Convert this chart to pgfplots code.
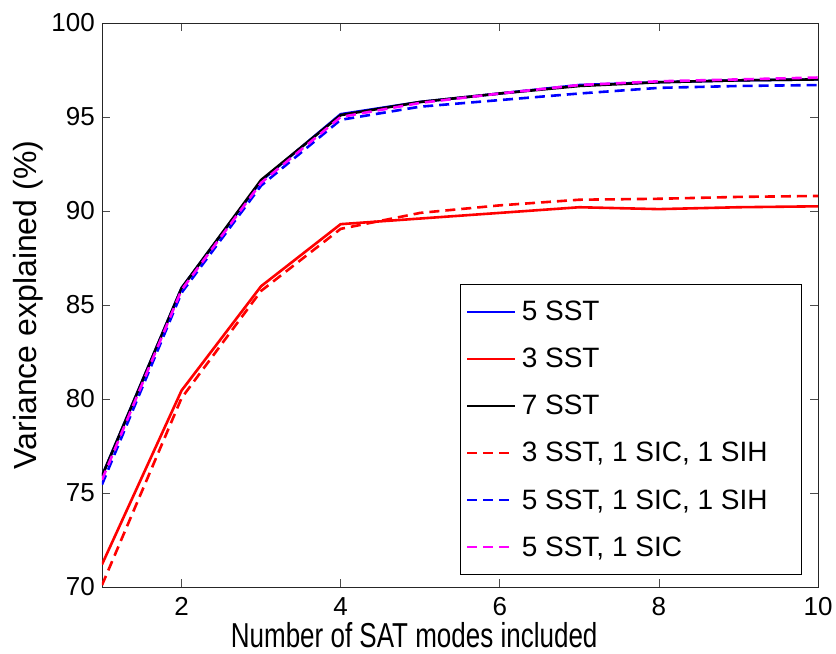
\documentclass[border=0pt]{standalone}
\usepackage{fontspec}
\setmainfont{Liberation Sans}
\usepackage{graphicx}
\usepackage{pgfplots}
\pgfplotsset{compat=1.18}
\definecolor{mag}{rgb}{1,0,1}
\begin{document}
\begin{tikzpicture}
\begin{axis}[
  scale only axis,
  width=716pt, height=564pt,
  xmin=1, xmax=10, ymin=70, ymax=100,
  xtick={2,4,6,8,10}, ytick={70,75,...,100},
  tick align=inside, tick pos=both,
  major tick length=8pt,
  /pgf/number format/assume math mode=true,
  tick label style={font=\fontsize{26}{28}\selectfont, inner sep=0pt},
  yticklabel style={xshift=-7pt},
  xticklabel style={yshift=-10pt},
  xlabel={\scalebox{1}[1.33]{Number of SAT modes included}},
  ylabel={Variance explained (\%)},
  xlabel style={font=\fontsize{26}{28}\selectfont, at={(axis description cs:0.436,0)}, anchor=base, yshift=-60pt},
  ylabel style={font=\fontsize{32}{34}\selectfont, at={(axis description cs:0,0.5)}, anchor=base, yshift=65pt},
  axis line style={line width=0.8pt, black!85},
  every tick/.style={line width=0.6pt, black!70},
  legend style={at={(0.9777,0.0213)}, anchor=south east, font=\fontsize{28}{30}\selectfont,
    draw=black, line width=0.8pt, row sep=22pt, column sep=4pt, inner xsep=6pt, inner ysep=15pt},
  legend cell align=left,
  legend image code/.code={\draw[#1, line width=1.5pt] (0pt,0pt) -- (48pt,0pt);},
  every axis plot/.append style={line width=2.6pt},
]
\addplot[blue] coordinates {(1,75.9) (2,85.9) (3,91.6) (4,95.15) (5,95.8) (6,96.25) (7,96.7) (8,96.85) (9,96.95) (10,97.0)};
\addlegendentry{5 SST}
\addplot[red] coordinates {(1,71.2) (2,80.45) (3,86.0) (4,89.3) (5,89.6) (6,89.9) (7,90.2) (8,90.1) (9,90.2) (10,90.25)};
\addlegendentry{3 SST}
\addplot[black] coordinates {(1,75.9) (2,85.9) (3,91.65) (4,95.1) (5,95.8) (6,96.25) (7,96.65) (8,96.85) (9,96.95) (10,97.0)};
\addlegendentry{7 SST}
\addplot[red, dash pattern=on 10pt off 6pt] coordinates {(1,70.1) (2,80.05) (3,85.75) (4,89.05) (5,89.9) (6,90.3) (7,90.6) (8,90.65) (9,90.75) (10,90.8)};
\addlegendentry{3 SST, 1 SIC, 1 SIH\rule{26pt}{0pt}}
\addplot[blue, dash pattern=on 10pt off 6pt] coordinates {(1,75.45) (2,85.65) (3,91.35) (4,94.85) (5,95.55) (6,95.9) (7,96.25) (8,96.55) (9,96.65) (10,96.7)};
\addlegendentry{5 SST, 1 SIC, 1 SIH}
\addplot[mag, dash pattern=on 10pt off 6pt] coordinates {(1,75.7) (2,85.8) (3,91.5) (4,95.0) (5,95.75) (6,96.25) (7,96.7) (8,96.9) (9,97.0) (10,97.1)};
\addlegendentry{5 SST, 1 SIC}
\end{axis}
\path[draw=none] ([shift={(-102pt,-66pt)}]current axis.south west) rectangle ([shift={(18pt,23pt)}]current axis.north east);
\end{tikzpicture}
\end{document}
